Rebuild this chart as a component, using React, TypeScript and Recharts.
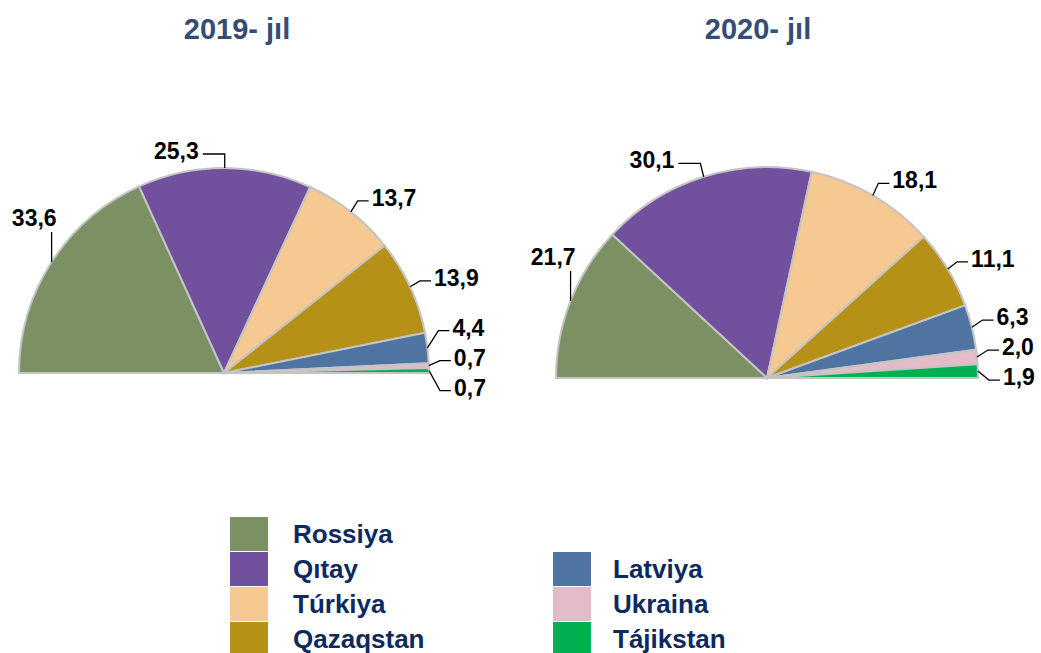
import { PieChart, Pie, Cell, Legend } from 'recharts';

const countries = ['Rossiya', 'Qıtay', 'Túrkiya', 'Qazaqstan', 'Latviya', 'Ukraina', 'Tájikstan'];
const share2019 = [33.6, 25.3, 13.7, 13.9, 4.4, 0.7, 0.7];
const share2020 = [21.7, 30.1, 18.1, 11.1, 6.3, 2.0, 1.9];
const years = ['2019- jıl', '2020- jıl'];

const colors = ['#7b9163', '#71519d', '#f6c892', '#b59118', '#4f74a2', '#e2bcc8', '#00af50'];
const font = '"Liberation Sans", Arial, sans-serif';
const RAD = Math.PI / 180;
const LABEL_GAP = 30;

const fmt = (v: number) => v.toFixed(1).replace('.', ',');
const rows = (values: number[]) => countries.map((name, i) => ({ name, value: values[i] }));

// same angles recharts uses for a 180 -> 0 half pie, needed to stack the small labels
function midAngles(values: number[]) {
  const total = values.reduce((a, b) => a + b, 0);
  let acc = 0;
  return values.map((v) => {
    const m = 180 - ((acc + v / 2) / total) * 180;
    acc += v;
    return m;
  });
}

// spread labels that would overlap, keeping each crowded group centred on its ideal spot
function spread(ideal: number[], gap: number) {
  let groups = ideal.map((y) => ({ n: 1, sum: y }));
  const top = (g: { n: number; sum: number }) => g.sum / g.n - ((g.n - 1) * gap) / 2;
  let merged = true;
  while (merged) {
    merged = false;
    for (let k = 1; k < groups.length; k++) {
      const a = groups[k - 1];
      const b = groups[k];
      if (top(b) < top(a) + a.n * gap) {
        groups.splice(k - 1, 2, { n: a.n + b.n, sum: a.sum + b.sum });
        merged = true;
        break;
      }
    }
  }
  const out: number[] = [];
  groups.forEach((g) => {
    for (let j = 0; j < g.n; j++) out.push(top(g) + j * gap);
  });
  return out;
}

function makeLabel(values: number[]) {
  const mids = midAngles(values);
  return (props: any) => {
    const { cx, cy, outerRadius, index } = props;
    const elbowR = outerRadius + 11;
    const ideal = mids.map((m) => cy - (elbowR + 3) * Math.sin(m * RAD));
    const rightIdx = mids.map((m, i) => (m < 89 ? i : -1)).filter((i) => i >= 0);
    const placed = spread(rightIdx.map((i) => ideal[i]), LABEL_GAP);

    const m = mids[index];
    const ax = cx + outerRadius * Math.cos(m * RAD);
    const ay = cy - outerRadius * Math.sin(m * RAD);
    const text = fmt(values[index]);
    const textProps = { fontSize: 23, fontWeight: 700, fontFamily: font, fill: '#000' };

    if (m > 130) {
      return (
        <g key={`l${index}`}>
          <path d={`M${ax},${ay}L${ax},${ay - 30}`} stroke="#000" strokeWidth={1.3} fill="none" />
          <text x={ax + 5} y={ay - 36} textAnchor="end" {...textProps}>
            {text}
          </text>
        </g>
      );
    }
    const right = m < 89;
    const ex = cx + elbowR * Math.cos(m * RAD);
    const ey = right ? placed[rightIdx.indexOf(index)] : ideal[index];
    const hx = right ? ex + 11 : ex - 22;
    return (
      <g key={`l${index}`}>
        <path d={`M${ax},${ay}L${ex},${ey}L${hx},${ey}`} stroke="#000" strokeWidth={1.3} fill="none" />
        <text
          x={right ? hx + 3 : hx - 4}
          y={ey}
          dy={-3}
          textAnchor={right ? 'start' : 'end'}
          dominantBaseline="central"
          {...textProps}
        >
          {text}
        </text>
      </g>
    );
  };
}

function LegendGrid() {
  // first column: 4 countries, second column starts one row lower
  return (
    <div
      style={{
        display: 'grid',
        gridTemplateColumns: '323px 323px',
        gridAutoRows: '35px',
        fontFamily: font,
      }}
    >
      {countries.map((c, i) => (
        <div
          key={c}
          style={{
            gridColumn: i < 4 ? 1 : 2,
            gridRow: i < 4 ? i + 1 : i - 2,
            display: 'flex',
            alignItems: 'center',
          }}
        >
          <span style={{ width: 38, height: 34, background: colors[i], marginRight: i < 4 ? 25 : 22 }} />
          <span style={{ fontSize: 26, fontWeight: 700, color: '#0d2a5e', marginTop: 2 }}>{c}</span>
        </div>
      ))}
    </div>
  );
}

export default function App() {
  return (
    <div style={{ position: 'absolute', left: 0, top: 0, width: 1041, height: 653, background: '#fff' }}>
      {years.map((y, i) => (
        <div
          key={y}
          style={{
            position: 'absolute',
            top: 13,
            left: i === 0 ? 137 : 658,
            width: 200,
            textAlign: 'center',
            fontFamily: font,
            fontSize: 29,
            fontWeight: 700,
            color: '#344d72',
          }}
        >
          {y}
        </div>
      ))}
      <PieChart width={1041} height={653} margin={{ top: 0, right: 0, bottom: 0, left: 0 }}>
        <Pie
          data={rows(share2019)}
          dataKey="value"
          nameKey="name"
          cx={224}
          cy={373}
          outerRadius={205}
          startAngle={180}
          endAngle={0}
          stroke="#c4c4c4"
          strokeWidth={2}
          label={makeLabel(share2019)}
          labelLine={false}
          isAnimationActive={false}
        >
          {colors.map((c) => (
            <Cell key={c} fill={c} />
          ))}
        </Pie>
        <Pie
          data={rows(share2020)}
          dataKey="value"
          nameKey="name"
          cx={767}
          cy={378}
          outerRadius={211}
          startAngle={180}
          endAngle={0}
          stroke="#c4c4c4"
          strokeWidth={2}
          label={makeLabel(share2020)}
          labelLine={false}
          isAnimationActive={false}
        >
          {colors.map((c) => (
            <Cell key={c} fill={c} />
          ))}
        </Pie>
        <Legend
          content={() => <LegendGrid />}
          wrapperStyle={{ position: 'absolute', left: 230, top: 516, bottom: 'auto', width: 660 }}
        />
      </PieChart>
    </div>
  );
}
